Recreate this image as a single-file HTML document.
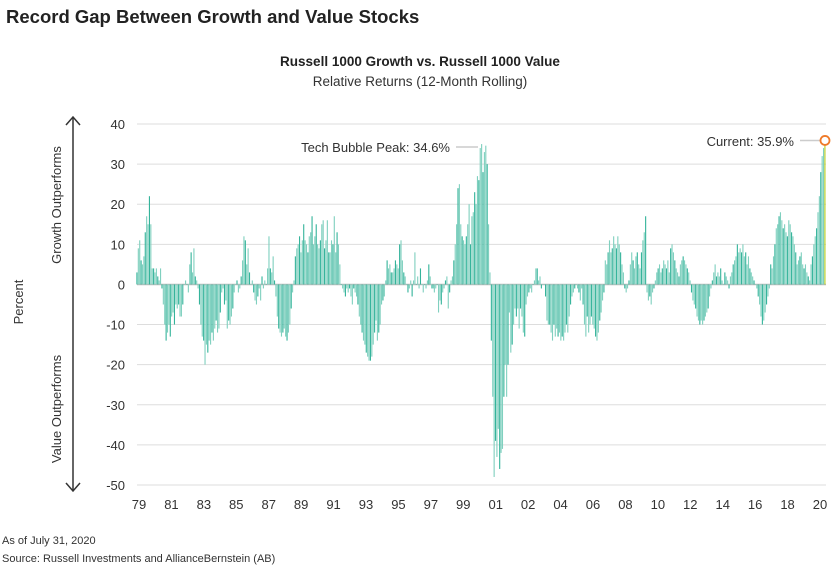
<!DOCTYPE html>
<html><head><meta charset="utf-8"><style>
body{margin:0;background:#fff;width:840px;height:567px;overflow:hidden;font-family:"Liberation Sans",sans-serif;}
svg text{font-family:"Liberation Sans",sans-serif;}
</style></head><body>
<svg id="chart" width="840" height="567" xmlns="http://www.w3.org/2000/svg">
<text x="6" y="23" font-size="18.5" font-weight="bold" fill="#222">Record Gap Between Growth and Value Stocks</text>
<text x="420" y="66" font-size="13.5" font-weight="bold" text-anchor="middle" fill="#222">Russell 1000 Growth vs. Russell 1000 Value</text>
<text x="420" y="86" font-size="13.5" text-anchor="middle" fill="#333">Relative Returns (12-Month Rolling)</text>
<g stroke="#333" stroke-width="1.5" fill="none">
<line x1="73" y1="117" x2="73" y2="491"/>
<polyline points="66,125 73,117 80,125"/>
<polyline points="66,483 73,491 80,483"/>
</g>
<text transform="translate(61,205) rotate(-90)" font-size="13" text-anchor="middle" fill="#333">Growth Outperforms</text>
<text transform="translate(61,409) rotate(-90)" font-size="13" text-anchor="middle" fill="#333">Value Outperforms</text>
<text transform="translate(23,302) rotate(-90)" font-size="13" text-anchor="middle" fill="#333">Percent</text>
<g id="grid"></g><g id="bars"></g><g id="labels"></g>
<text x="450" y="152" font-size="13" text-anchor="end" fill="#333">Tech Bubble Peak: 34.6%</text>
<line x1="456" y1="147" x2="478" y2="147" stroke="#ccc" stroke-width="1.5"/>
<text x="794" y="146" font-size="13" text-anchor="end" fill="#333">Current: 35.9%</text>
<text x="2" y="544" font-size="11" fill="#333">As of July 31, 2020</text>
<text x="2" y="562" font-size="11" fill="#333">Source: Russell Investments and AllianceBernstein (AB)</text>
</svg>
<script>
const yTicks=[40,30,20,10,0,-10,-20,-30,-40,-50];
const xLabels=["79","81","83","85","87","89","91","93","95","97","99","01","02","04","06","08","10","12","14","16","18","20"];
const values=[
3,9,11,6,5,7,13,17,15,22,15,4,
4,3,4,2,1,4,-1,-5,-10,-14,-12,-10,
-13,-8,-7,-10,-5,-6,-5,-8,-8,-5,0,1,
0,-2,5,8,3,9,2,1,-1,-5,-10,-13,
-14,-20,-15,-17,-14,-15,-12,-14,-11,-9,-12,-11,
-7,-2,-1,-5,-4,-11,-9,-10,-8,-6,-2,0,
1,-2,-1,2,6,12,11,5,9,3,0,1,
-2,-4,-5,-3,-1,-4,2,-1,1,0,4,12,
4,3,7,1,-3,-8,-11,-12,-13,-12,-11,-13,
-14,-12,-10,-6,-2,1,7,9,10,12,8,11,
15,11,10,8,12,13,17,10,12,15,10,9,
11,15,16,9,11,16,8,8,11,10,17,8,
13,10,5,0,-1,-2,-3,-1,-2,-1,-3,-5,
-1,-2,-3,-5,-8,-10,-12,-14,-15,-17,-18,-19,
-19,-18,-15,-12,-9,-14,-12,-10,-5,-4,-3,1,
6,4,5,3,3,4,6,5,4,10,11,6,
3,2,0,-2,-1,1,-3,1,8,0,2,-1,
4,0,-2,0,-1,1,5,2,-1,-1,-2,-1,
0,-7,-4,-5,-2,-1,1,2,-6,-2,1,2,
6,10,15,24,25,15,12,11,10,12,15,20,
10,17,18,23,20,27,26,34,35,28,33,34.6,
30,15,3,-14,-28,-48,-39,-43,-36,-46,-42,-41,
-28,-20,-28,-20,-7,-17,-15,-10,-6,-8,-6,-11,
-6,-8,-12,-13,-5,-3,-2,-1,-2,0,1,4,
4,1,2,-1,0,0,-3,-9,-10,-10,-12,-14,
-10,-13,-11,-13,-12,-14,-13,-14,-12,-10,-12,-8,
-5,-3,-2,-1,0,-1,-2,-4,-1,-5,-10,-13,
-8,-12,-10,
-8,-10,-11,-13,-14,-12,-9,-7,-4,-2,
6,5,8,11,8,9,12,10,9,12,10,8,5,3,
-1,-2,-1,1,
5,8,6,4,7,8,5,4,8,11,13,17,
-2,-4,-3,-5,-2,-1,1,
3,4,5,3,4,6,5,4,6,3,
9,10,8,6,
4,3,2,5,6,7,6,5,4,3,1,
-2,-4,-5,-6,-8,-9,-10,-9,-10,-9,-8,-7,-6,-3,-1,
1,3,5,2,3,2,4,1,0,3,2,1,-1,2,3,5,
6,7,10,8,9,8,10,7,8,5,7,4,3,2,1,0,
-1,-3,-5,-8,-10,-9,-7,-5,-3,-1,
5,4,7,10,14,15,17,18,16,14,15,13,12,16,15,13,12,
10,8,5,6,7,8,5,4,5,3,2,1,
5,7,10,12,14,18,22,28,32,34,35.9
];
const NS="http://www.w3.org/2000/svg";
const X0=137,X1=825,Y0=124,Y1=485,VMAX=40,VMIN=-50;
function yScale(v){return Y0+(VMAX-v)/(VMAX-VMIN)*(Y1-Y0);}
function xScale(i){return X0+i*(X1-X0)/(values.length-1);}
function mk(tag,attrs,parent){const e=document.createElementNS(NS,tag);for(const k in attrs)e.setAttribute(k,attrs[k]);parent.appendChild(e);return e;}
const grid=document.getElementById('grid'),bars=document.getElementById('bars'),labels=document.getElementById('labels');
yTicks.forEach(t=>{
  const l=mk('line',{x1:X0,x2:X1+1,y1:yScale(t),y2:yScale(t),stroke:t===0?'#bbb':'#ddd','stroke-width':t===0?1.5:1},grid);
  
  
  const tx=mk('text',{x:125,y:yScale(t)+5,'font-size':13,'text-anchor':'end',fill:'#333'},labels);
  tx.textContent=t;
  
  
});
const step=(820-139)/(xLabels.length-1);
xLabels.forEach((s,i)=>{
  const tx=mk('text',{x:139+i*step,y:509,'font-size':13,'text-anchor':'middle',fill:'#333'},labels);
  tx.textContent=s;
  
  
});
const bw=(X1-X0)/(values.length-1);
values.forEach((v,i)=>{
  const last=i===values.length-1;
  const y=yScale(Math.max(v,0)),h=Math.abs(yScale(v)-yScale(0));
  const r=mk('rect',{x:xScale(i)-bw*0.45,y:y,width:bw*0.8,height:Math.max(h,0.5),fill:last?'#b7cc1c':(i%3===0?'#35b49b':'#80d0bf')},bars);
  
  
});
const lv=values[values.length-1],lx=xScale(values.length-1);
const ld=mk('line',{x1:800,x2:lx-5,y1:yScale(lv),y2:yScale(lv),stroke:'#ccc','stroke-width':1.5},labels);


const c=mk('circle',{cx:lx,cy:yScale(lv),r:4.5,fill:'#fff',stroke:'#ef7a28','stroke-width':1.8},labels);


</script>
</body></html>
